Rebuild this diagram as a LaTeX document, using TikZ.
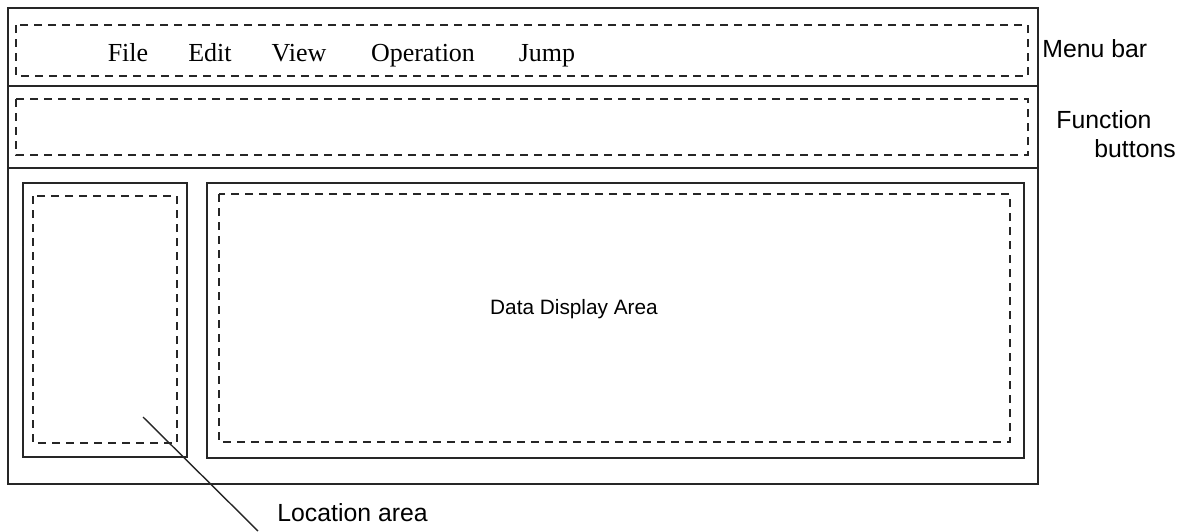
\documentclass[tikz,border=0pt]{standalone}
\usepackage{fontspec}
\setmainfont{Liberation Serif}
\setsansfont{Liberation Sans}
\usetikzlibrary{positioning}

\tikzset{
    frame/.style={draw=black!85, line width=1pt},
    dashbox/.style={draw=black!85, line width=1pt, dash pattern=on 4pt off 3pt},
    menuitem/.style={font=\fontsize{13}{15}\selectfont, inner sep=0pt, anchor=base},
    sidelabel/.style={font=\sffamily\fontsize{12.4}{14}\selectfont, inner sep=0pt, anchor=west}
}

\begin{document}
\begin{tikzpicture}[
    x=0.5pt,
    y=-0.5pt
]

\useasboundingbox (0,0) rectangle (1185,531);

% Window frame and separators
\draw[frame] (8,8) rectangle (1038,484);
\draw[frame] (8,86) -- (1038,86);
\draw[frame] (8,168) -- (1038,168);

% Menu bar and function buttons
\draw[dashbox] (16,25) rectangle (1028,76);
\draw[dashbox] (16,99) rectangle (1028,155);

% Location area and data display area
\draw[frame] (23,183) rectangle (187,457);
\draw[dashbox] (33,196) rectangle (177,443);
\draw[frame] (207,183) rectangle (1024,458);
\draw[dashbox] (219,194) rectangle (1010,442);

% Menu items: x, label
\foreach \x/\name in {
    128/File,
    210/Edit,
    299/View,
    423/Operation,
    547/Jump
} {
    \node[menuitem] (menu-\name) at (\x,61) {\name};
}

\node[font=\sffamily\fontsize{10.4}{12}\selectfont, inner sep=0pt] (data) at (574,309) {Data Display Area};

% Side labels
\node[sidelabel] (menubar) at (1042,49) {Menu bar};
\node[sidelabel] (func) at (1056,120) {Function};
\node[sidelabel] (buttons) at (1094,149) {buttons};
\node[sidelabel] (location) at (277,513) {Location area};

% Pointer to location area
\coordinate (locptr) at (143,417);
\coordinate (locend) at (258,531);
\draw[line width=0.7pt, black!85] (locptr) -- (locend);

\end{tikzpicture}
\end{document}
